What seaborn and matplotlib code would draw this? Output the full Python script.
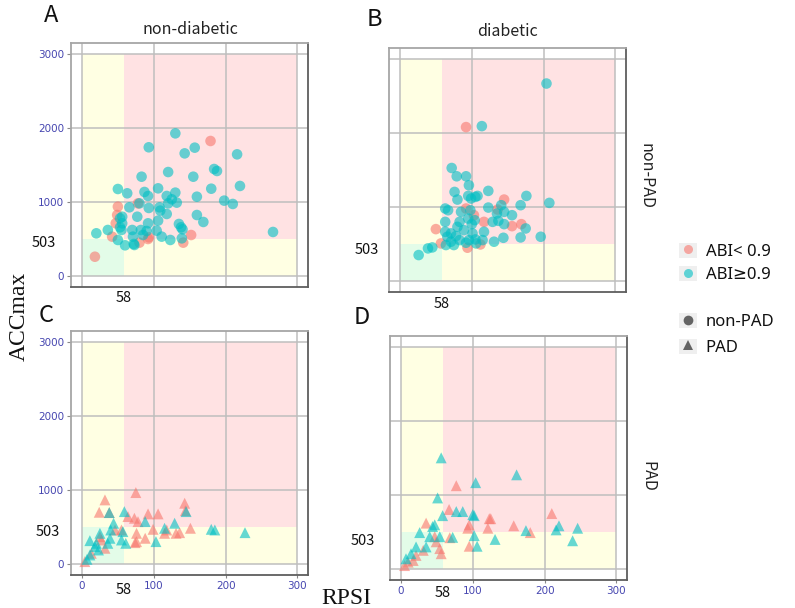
import matplotlib
matplotlib.use("Agg")
import matplotlib.pyplot as plt
import pandas as pd
import seaborn as sns
from matplotlib.patches import Rectangle, Patch
from matplotlib.lines import Line2D

sns.set_theme(style="white")
plt.rcParams["font.family"] = ["Noto Sans CJK SC", "DejaVu Sans"]

# cut-offs that split each panel into four zones
RPSI_CUT = 58
ACC_CUT = 503
X_MAX = 300
Y_MAX = 3000

abi_levels = ["ABI< 0.9", "ABI\u22650.9"]
pad_levels = ["non-PAD", "PAD"]
diab_levels = ["non-diabetic", "diabetic"]

# non-diabetic, non-PAD
nd_np_low_x = [179, 50, 49, 47, 78, 42, 93, 92, 141, 152, 80, 18]
nd_np_low_y = [1822, 936, 823, 711, 980, 531, 522, 499, 450, 553, 450, 260]
nd_np_high_x = [130, 93, 143, 157, 216, 120, 83, 155, 184, 188, 180, 220, 50, 63, 87,
                92, 106, 118, 130, 125, 132, 160, 198, 210, 66, 80, 93, 108, 109, 118,
                120, 106, 92, 77, 56, 56, 160, 169, 135, 138, 140, 70, 82, 90, 104,
                55, 36, 20, 50, 60, 72, 73, 111, 123, 139, 71, 85, 266, 53, 53]
nd_np_high_y = [1925, 1737, 1655, 1732, 1642, 1403, 1340, 1340, 1444, 1417, 1178, 1215, 1174, 1116, 1134,
                1080, 1183, 1080, 1125, 1035, 990, 1070, 1017, 972, 927, 980, 918, 927, 882, 837,
                980, 747, 711, 800, 800, 711, 823, 729, 702, 657, 630, 621, 621, 607, 612,
                621, 621, 576, 486, 414, 432, 418, 531, 486, 508, 531, 553, 594, 657, 778]

# diabetic, non-PAD
d_np_low_x = [92, 145, 136, 92, 103, 117, 156, 169, 50, 57, 94, 112]
d_np_low_y = [2077, 1099, 964, 978, 888, 798, 740, 767, 700, 507, 449, 493]
d_np_high_x = [204, 114, 72, 79, 92, 96, 76, 80, 95, 108, 99, 105, 123, 176, 208,
               63, 67, 85, 98, 95, 104, 100, 83, 63, 123, 135, 141, 145, 156, 168,
               129, 137, 145, 117, 89, 80, 63, 71, 78, 83, 96, 105, 115, 101, 66,
               71, 75, 64, 92, 106, 131, 144, 168, 175, 196, 45, 39, 26]
d_np_high_y = [2665, 2090, 1525, 1413, 1413, 1292, 1202, 1099, 1148, 1148, 1113, 1135, 1216, 1148, 1054,
               978, 955, 933, 955, 843, 821, 767, 798, 798, 991, 911, 1023, 933, 888, 1023,
               798, 812, 767, 664, 686, 731, 664, 642, 606, 552, 552, 561, 552, 642, 597,
               530, 485, 485, 516, 507, 530, 583, 588, 709, 597, 453, 440, 350]

# non-diabetic, PAD
nd_p_low_x = [32, 75, 24, 143, 144, 106, 92, 73, 78, 64, 99, 118, 136, 151, 76,
              88, 74, 55, 27, 32, 25, 4, 13, 46, 115, 131, 38, 76]
nd_p_low_y = [865, 964, 698, 820, 720, 676, 676, 617, 572, 640, 468, 459, 423, 482, 414,
              347, 288, 459, 324, 212, 369, 32, 144, 459, 414, 414, 694, 302]
nd_p_high_x = [59, 145, 129, 88, 44, 40, 57, 55, 61, 39, 36, 103, 180, 185, 227,
               18, 11, 7, 23, 20, 38, 25, 11, 115]
nd_p_high_y = [707, 707, 550, 572, 550, 459, 437, 324, 279, 347, 279, 302, 468, 459, 423,
               234, 122, 63, 189, 279, 694, 414, 315, 482]

# diabetic, PAD
d_p_low_x = [77, 67, 123, 125, 95, 121, 93, 157, 210, 180, 68, 47, 35, 49, 54,
             95, 56, 31, 21, 10, 5, 17]
d_p_low_y = [1124, 803, 679, 679, 596, 550, 550, 583, 748, 491, 422, 436, 619, 367, 275,
             307, 206, 252, 183, 92, 46, 115]
d_p_high_x = [56, 104, 161, 51, 58, 77, 86, 100, 102, 26, 47, 40, 54, 72, 102,
              131, 106, 174, 220, 216, 246, 239, 21, 35, 14, 7, 44]
d_p_high_y = [1500, 1165, 1271, 959, 720, 775, 775, 734, 720, 491, 596, 436, 436, 427, 450,
              399, 307, 518, 583, 528, 550, 381, 298, 298, 206, 138, 573]


def group(xs, ys, abi, diab, pad):
    return pd.DataFrame({"RPSI": xs, "ACCmax": ys, "ABI": abi,
                         "Diabetes": diab, "PAD": pad})


df = pd.concat([
    group(nd_np_low_x, nd_np_low_y, abi_levels[0], diab_levels[0], pad_levels[0]),
    group(nd_np_high_x, nd_np_high_y, abi_levels[1], diab_levels[0], pad_levels[0]),
    group(d_np_low_x, d_np_low_y, abi_levels[0], diab_levels[1], pad_levels[0]),
    group(d_np_high_x, d_np_high_y, abi_levels[1], diab_levels[1], pad_levels[0]),
    group(nd_p_low_x, nd_p_low_y, abi_levels[0], diab_levels[0], pad_levels[1]),
    group(nd_p_high_x, nd_p_high_y, abi_levels[1], diab_levels[0], pad_levels[1]),
    group(d_p_low_x, d_p_low_y, abi_levels[0], diab_levels[1], pad_levels[1]),
    group(d_p_high_x, d_p_high_y, abi_levels[1], diab_levels[1], pad_levels[1]),
], ignore_index=True)

palette = {abi_levels[0]: "#F8766D", abi_levels[1]: "#00BFC4"}
markers = {pad_levels[0]: "o", pad_levels[1]: "^"}
zone_colors = {"pink": "#FFE2E3", "yellow": "#FFFFE3", "green": "#E3FCE8"}
tick_blue = "#4646B0"

W, H = 795, 608
fig = plt.figure(figsize=(W / 100, H / 100), dpi=100)
XLIM = (-15, 315)
YLIM = (-150, 3150)
AW, AH = 237.0, 244.5

# panel layout: (letter, diabetes, PAD, left px, top px, show y labels, show x labels,
#                offsets for "58" and "503" annotations, letter position)
panels = [
    ("A", diab_levels[0], pad_levels[0], 71.2, 42.6, True, False, -3.0, (-11, -3.2), (51, 16)),
    ("B", diab_levels[1], pad_levels[0], 389.2, 47.6, False, False, -3.5, (-7.5, -4.5), (374, 19)),
    ("C", diab_levels[0], pad_levels[1], 71.2, 330.6, True, True, -5.5, (-8, -3.5), (46, 315)),
    ("D", diab_levels[1], pad_levels[1], 390.2, 335.6, False, True, -4.5, (-11, -7), (362, 317)),
]

for letter, diab, pad, left, top, ylab, xlab, off58, off503, lpos in panels:
    ax = fig.add_axes([left / W, 1 - (top + AH) / H, AW / W, AH / H])
    ax.set_facecolor("white")

    zones = [
        ((0, ACC_CUT), RPSI_CUT, Y_MAX - ACC_CUT, zone_colors["yellow"]),
        ((0, 0), RPSI_CUT, ACC_CUT, zone_colors["green"]),
        ((RPSI_CUT, 0), X_MAX - RPSI_CUT, ACC_CUT, zone_colors["yellow"]),
        ((RPSI_CUT, ACC_CUT), X_MAX - RPSI_CUT, Y_MAX - ACC_CUT, zone_colors["pink"]),
    ]
    for xy, w, h, c in zones:
        ax.add_patch(Rectangle(xy, w, h, facecolor=c, edgecolor="none", zorder=0.1))

    sub = df[(df["Diabetes"] == diab) & (df["PAD"] == pad)]
    size = 58 if pad == pad_levels[0] else 62
    sns.scatterplot(data=sub, x="RPSI", y="ACCmax", hue="ABI", hue_order=abi_levels,
                    palette=palette, style="PAD", markers=markers, s=size,
                    alpha=0.6, linewidth=0, legend=False, ax=ax, zorder=2)

    ax.set_xlim(*XLIM)
    ax.set_ylim(*YLIM)
    ax.set_xticks([0, 100, 200, 300])
    ax.set_yticks([0, 1000, 2000, 3000])
    ax.set_axisbelow(True)
    ax.grid(True, color="#BEBEBE", lw=1.1)
    ax.set_xlabel("")
    ax.set_ylabel("")
    ax.tick_params(axis="y", left=ylab, labelleft=ylab, length=3, width=0.8,
                   color="#888888", pad=2, labelsize=7.5, labelcolor=tick_blue)
    ax.tick_params(axis="x", bottom=xlab, labelbottom=xlab, length=2.5, width=0.8,
                   color="#888888", pad=1.5, labelsize=7.5, labelcolor=tick_blue)
    for lab in ax.get_xticklabels() + ax.get_yticklabels():
        lab.set_family("DejaVu Sans")
    for side in ["left", "top"]:
        ax.spines[side].set_color("#A6A6A6")
        ax.spines[side].set_linewidth(1.3)
    for side in ["right", "bottom"]:
        ax.spines[side].set_color("#5E5E5E")
        ax.spines[side].set_linewidth(1.3)

    ax.annotate(str(RPSI_CUT), xy=(RPSI_CUT, 0), xycoords=("data", "axes fraction"),
                xytext=(0, off58), textcoords="offset points", ha="center", va="top",
                fontsize=10.5, color="#111111", annotation_clip=False)
    ax.annotate(str(ACC_CUT), xy=(0, ACC_CUT), xycoords=("axes fraction", "data"),
                xytext=off503, textcoords="offset points", ha="right", va="center",
                fontsize=10.5, color="#111111", annotation_clip=False)

    fig.text(lpos[0] / W, 1 - lpos[1] / H, letter, ha="center", va="center",
             fontsize=17, color="#111111")

# facet strips
fig.text(190 / W, 1 - 29 / H, diab_levels[0], ha="center", va="center", fontsize=11.5, color="#222222")
fig.text(507 / W, 1 - 31 / H, diab_levels[1], ha="center", va="center", fontsize=11.5, color="#222222")
fig.text(646 / W, 1 - 176 / H, pad_levels[0], ha="center", va="center", rotation=270,
         fontsize=11.5, color="#222222")
fig.text(648 / W, 1 - 476 / H, pad_levels[1], ha="center", va="center", rotation=270,
         fontsize=11.5, color="#222222")

# shared axis titles
fig.text(19 / W, 1 - 316 / H, "ACCmax", ha="center", va="center", rotation=90,
         fontsize=17, family="Liberation Serif", color="#111111")
fig.text(346 / W, 1 - 599 / H, "RPSI", ha="center", va="center",
         fontsize=17, family="Liberation Serif", color="#111111")

# legends
key_bg = dict(facecolor="#EFEFEF", edgecolor="none")
abi_handles = [(Patch(**key_bg), Line2D([], [], ls="", marker="o", ms=6.5, mew=0,
                                         color=palette[k], alpha=0.6)) for k in abi_levels]
pad_handles = [(Patch(**key_bg), Line2D([], [], ls="", marker=markers[k], ms=7, mew=0,
                                         color="#555555", alpha=0.9)) for k in pad_levels]
leg_kw = dict(frameon=False, handlelength=1.05, handleheight=1.05, handletextpad=0.55,
              borderaxespad=0, borderpad=0, labelspacing=0.35, loc="center left",
              prop={"family": ["Noto Sans", "DejaVu Sans"], "size": 12})
leg1 = fig.legend(abi_handles, abi_levels, bbox_to_anchor=(679 / W, 1 - 263 / H), **leg_kw)
leg2 = fig.legend(pad_handles, pad_levels, bbox_to_anchor=(679 / W, 1 - 334.5 / H),
                  **{**leg_kw, "labelspacing": 0.5})
for leg in (leg1, leg2):
    for t in leg.get_texts():
        t.set_color("#111111")

fig.savefig("out.png", dpi=100)
